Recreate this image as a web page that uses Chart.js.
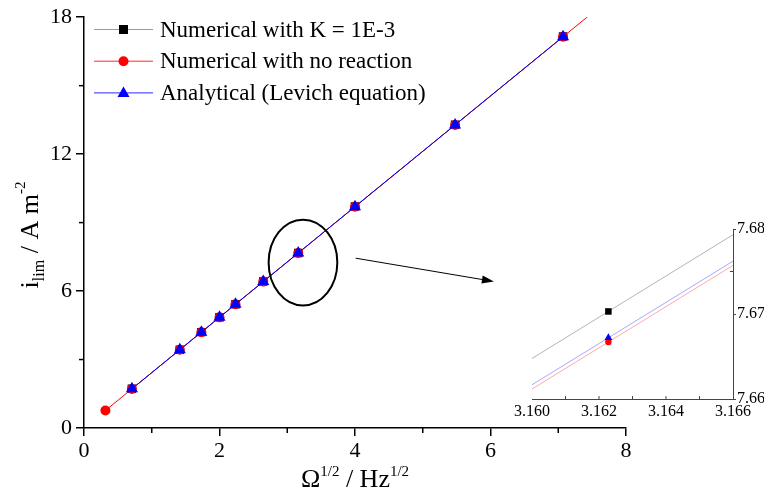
<!DOCTYPE html>
<html><head><meta charset="utf-8">
<script src="https://cdn.jsdelivr.net/npm/chart.js@4.4.1/dist/chart.umd.min.js"></script>
<style>
html,body{margin:0;padding:0;background:#fff;}
#wrap{position:relative;width:764px;height:499px;background:#fff;}
canvas{position:absolute;left:0;top:0;}
#inset{pointer-events:none;}
</style></head><body>
<div id="wrap"><canvas id="main" width="764" height="499"></canvas><canvas id="inset" width="764" height="499"></canvas></div>
<script>
// ---- data ----
const seriesNames = ['Numerical with K = 1E-3', 'Numerical with no reaction', 'Analytical (Levich equation)'];
const omegaK = [0.70711, 1.41421, 1.73205, 2.0, 2.23607, 2.64575, 3.16228, 4.0, 5.47723, 7.07107];
const currentK = [1.7151, 3.4303, 4.2012, 4.8511, 5.4237, 6.4174, 7.6703, 9.7022, 13.2855, 17.1514];
const omegaNoRxn = [0.31623, 0.70711, 1.41421, 1.73205, 2.0, 2.23607, 2.64575, 3.16228, 4.0, 5.47723, 7.07107, 7.74597];
const currentNoRxn = [0.7667, 1.7143, 3.4287, 4.1992, 4.8488, 5.4212, 6.4143, 7.6667, 9.6976, 13.2791, 17.1432, 18.7794];
const omegaLevich = [0.70711, 1.41421, 1.73205, 2.0, 2.23607, 2.64575, 3.16228, 4.0, 5.47723, 7.07107];
const currentLevich = [1.7145, 3.4289, 4.1995, 4.8492, 5.4216, 6.4148, 7.6672, 9.6984, 13.2803, 17.1445];
const xMinorMain = [1, 3, 5, 7];
const yMinorMain = [3, 9, 15];
const xMinorInset = [3.161, 3.162, 3.163, 3.164, 3.165];
const yMinorInset = [7.675];
// zoom marker (ellipse) and arrow, in data units of the main chart
const zoomEllipse = {x: 3.232, y: 7.25, rx: 0.507, ry: 1.88};
const zoomArrow = {x1: 4.01, y1: 7.44, x2: 6.05, y2: 6.42};

const SERIF = "'Liberation Serif', 'Times New Roman', serif";
const toPts = (xs, ys) => xs.map((x, i) => ({x: x, y: ys[i]}));

// ---- plugins ----
const minorTicks = {
  id: 'minorTicks',
  afterDraw(chart, args, o) {
    const ctx = chart.ctx, xs = chart.scales.x, ys = chart.scales.y;
    ctx.save(); ctx.strokeStyle = o.color; ctx.lineWidth = o.width;
    o.x.forEach(v => { const p = xs.getPixelForValue(v); ctx.beginPath(); ctx.moveTo(p, xs.top); ctx.lineTo(p, xs.top + o.xDir * o.len); ctx.stroke(); });
    const yEdge = o.yRight ? ys.left : ys.right;
    o.y.forEach(v => { const p = ys.getPixelForValue(v); ctx.beginPath(); ctx.moveTo(yEdge, p); ctx.lineTo(yEdge + o.yDir * o.len, p); ctx.stroke(); });
    ctx.restore();
  }
};

function drawSegments(ctx, segs, cx, baseY) {
  let total = 0;
  segs.forEach(s => { ctx.font = s.size + 'px ' + SERIF; s.w = ctx.measureText(s.t).width; total += s.w; });
  let x = cx - total / 2;
  segs.forEach(s => { ctx.font = s.size + 'px ' + SERIF; ctx.fillText(s.t, x, baseY + (s.dy || 0)); x += s.w; });
}

const annotations = {
  id: 'annotations',
  afterDraw(chart) {
    const ctx = chart.ctx, xs = chart.scales.x, ys = chart.scales.y;
    ctx.save();
    ctx.fillStyle = '#000'; ctx.textBaseline = 'alphabetic'; ctx.textAlign = 'left';
    // x title
    drawSegments(ctx, [
      {t: 'Ω', size: 26}, {t: '1/2', size: 15, dy: -11}, {t: ' / Hz', size: 26}, {t: '1/2', size: 15, dy: -11}
    ], (xs.left + xs.right) / 2, 487);
    // y title
    ctx.save(); ctx.translate(38, 235); ctx.rotate(-Math.PI / 2);
    drawSegments(ctx, [
      {t: 'i', size: 26}, {t: 'lim', size: 16, dy: 6}, {t: ' / A m', size: 26}, {t: '-2', size: 15, dy: -13}
    ], 0, 0);
    ctx.restore();
    // ellipse
    ctx.strokeStyle = '#000'; ctx.lineWidth = 2;
    const ecx = xs.getPixelForValue(zoomEllipse.x), ecy = ys.getPixelForValue(zoomEllipse.y);
    const erx = xs.getPixelForValue(zoomEllipse.x + zoomEllipse.rx) - ecx;
    const ery = ecy - ys.getPixelForValue(zoomEllipse.y + zoomEllipse.ry);
    ctx.beginPath(); ctx.ellipse(ecx, ecy, erx, ery, 0, 0, Math.PI * 2); ctx.stroke();
    // arrow
    const ax1 = xs.getPixelForValue(zoomArrow.x1), ay1 = ys.getPixelForValue(zoomArrow.y1);
    const ax2 = xs.getPixelForValue(zoomArrow.x2), ay2 = ys.getPixelForValue(zoomArrow.y2);
    const ang = Math.atan2(ay2 - ay1, ax2 - ax1);
    ctx.lineWidth = 1;
    ctx.beginPath(); ctx.moveTo(ax1, ay1); ctx.lineTo(ax2 - 9 * Math.cos(ang), ay2 - 9 * Math.sin(ang)); ctx.stroke();
    ctx.beginPath();
    ctx.moveTo(ax2, ay2);
    ctx.lineTo(ax2 - 12 * Math.cos(ang) + 4 * Math.sin(ang), ay2 - 12 * Math.sin(ang) - 4 * Math.cos(ang));
    ctx.lineTo(ax2 - 12 * Math.cos(ang) - 4 * Math.sin(ang), ay2 - 12 * Math.sin(ang) + 4 * Math.cos(ang));
    ctx.closePath(); ctx.fill();
    // legend
    const rows = [
      {name: seriesNames[0], line: '#9a9a9a', fill: '#000', shape: 'rect'},
      {name: seriesNames[1], line: '#ff2a2a', fill: '#ff0000', shape: 'circle'},
      {name: seriesNames[2], line: '#2a2aff', fill: '#0000ff', shape: 'triangle'}
    ];
    rows.forEach((r, i) => {
      const y = 29.5 + i * 31.7;
      ctx.strokeStyle = r.line; ctx.lineWidth = 1;
      ctx.beginPath(); ctx.moveTo(94, y); ctx.lineTo(153, y); ctx.stroke();
      ctx.fillStyle = r.fill; const mx = 123.5;
      ctx.beginPath();
      if (r.shape === 'rect') ctx.rect(mx - 4.5, y - 4.5, 9, 9);
      else if (r.shape === 'circle') ctx.arc(mx, y, 5, 0, Math.PI * 2);
      else { ctx.moveTo(mx, y - 6.5); ctx.lineTo(mx + 6, y + 4); ctx.lineTo(mx - 6, y + 4); ctx.closePath(); }
      ctx.fill();
      ctx.fillStyle = '#000'; ctx.font = '23px ' + SERIF; ctx.textBaseline = 'middle';
      ctx.fillText(r.name, 160, y + 1);
    });
    ctx.restore();
  }
};

Chart.defaults.font.family = SERIF;
Chart.defaults.color = '#000';

// ---- main chart ----
new Chart(document.getElementById('main'), {
  type: 'scatter',
  data: {
    datasets: [
      {label: seriesNames[0], data: toPts(omegaK, currentK), showLine: true, order: 3,
       borderColor: '#8c8c8c', borderWidth: 1, pointStyle: 'rect', pointRadius: 6, pointBackgroundColor: '#000', pointBorderWidth: 0},
      {label: seriesNames[1], data: toPts(omegaNoRxn, currentNoRxn), showLine: true, order: 2,
       borderColor: '#ff0000', borderWidth: 1, pointStyle: 'circle', pointRadius: 5, pointBackgroundColor: '#ff0000', pointBorderWidth: 0},
      {label: seriesNames[2], data: toPts(omegaLevich, currentLevich), showLine: true, order: 1,
       borderColor: '#0000ff', borderWidth: 1, pointStyle: 'triangle', pointRadius: 7, pointBackgroundColor: '#0000ff', pointBorderWidth: 0}
    ]
  },
  options: {
    responsive: false, animation: false, devicePixelRatio: 1,
    layout: {padding: {left: 0, top: 15, right: 138, bottom: 0}},
    plugins: {legend: {display: false}, tooltip: {enabled: false},
      minorTicks: {x: xMinorMain, y: yMinorMain, len: 5, xDir: 1, yDir: -1, yRight: false, color: '#000', width: 1.5}},
    scales: {
      x: {type: 'linear', min: 0, max: 8,
        ticks: {stepSize: 2, padding: 2, font: {size: 22}, color: '#000', maxRotation: 0},
        grid: {drawOnChartArea: false, drawTicks: true, tickLength: 8, color: '#000', lineWidth: 1.5},
        border: {color: '#000', width: 1.5},
        afterFit: s => { s.height = 71; }},
      y: {type: 'linear', min: 0, max: 18,
        ticks: {stepSize: 6, padding: 4, font: {size: 22}, color: '#000'},
        grid: {drawOnChartArea: false, drawTicks: true, tickLength: 8, color: '#000', lineWidth: 1.5},
        border: {color: '#000', width: 1.5},
        afterFit: s => { s.width = 84; }}
    }
  },
  plugins: [minorTicks, annotations]
});

// ---- inset chart ----
new Chart(document.getElementById('inset'), {
  type: 'scatter',
  data: {
    datasets: [
      {data: toPts(omegaK, currentK), showLine: true, order: 3,
       borderColor: '#b4b4b4', borderWidth: 1, pointStyle: 'rect', pointRadius: 4.6, pointBackgroundColor: '#000', pointBorderWidth: 0},
      {data: toPts(omegaNoRxn, currentNoRxn), showLine: true, order: 2,
       borderColor: '#ffa8a8', borderWidth: 1, pointStyle: 'circle', pointRadius: 3.2, pointBackgroundColor: '#ff0000', pointBorderWidth: 0},
      {data: toPts(omegaLevich, currentLevich), showLine: true, order: 1,
       borderColor: '#a8a8ff', borderWidth: 1, pointStyle: 'triangle', pointRadius: 4.5, pointBackgroundColor: '#0000ff', pointBorderWidth: 0}
    ]
  },
  options: {
    responsive: false, animation: false, devicePixelRatio: 1,
    layout: {padding: {left: 532, top: 229, right: 0, bottom: 0}},
    plugins: {legend: {display: false}, tooltip: {enabled: false},
      minorTicks: {x: xMinorInset, y: yMinorInset, len: 3, xDir: -1, yDir: -1, yRight: true, color: '#444', width: 1}},
    scales: {
      x: {type: 'linear', min: 3.160, max: 3.166,
        ticks: {stepSize: 0.002, padding: 3, font: {size: 16}, color: '#000', maxRotation: 0,
          callback: v => v.toFixed(3)},
        grid: {drawOnChartArea: false, drawTicks: false},
        border: {color: '#444', width: 1},
        afterFit: s => { s.height = 100; }},
      y: {type: 'linear', position: 'right', min: 7.66, max: 7.68,
        ticks: {stepSize: 0.01, padding: 1, font: {size: 16}, color: '#000', callback: v => v.toFixed(2)},
        grid: {drawOnChartArea: false, drawTicks: true, tickLength: 3, color: '#444', lineWidth: 1},
        border: {color: '#444', width: 1},
        afterFit: s => { s.width = 31; }}
    }
  },
  plugins: [minorTicks]
});
</script>
</body></html>
